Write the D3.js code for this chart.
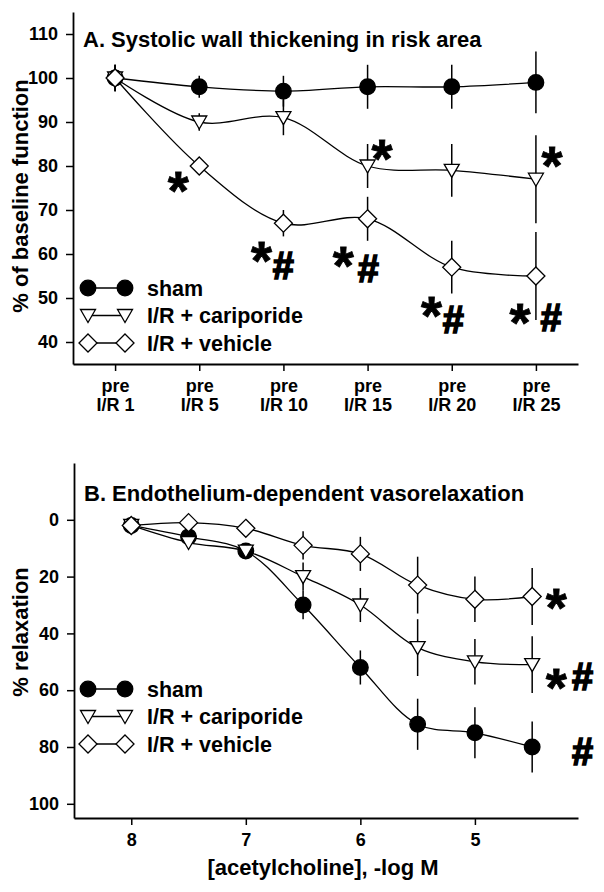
<!DOCTYPE html>
<html><head><meta charset="utf-8">
<script src="https://cdn.jsdelivr.net/npm/d3@7/dist/d3.min.js"></script>
<style>
body{margin:0;background:#fff}
text{font-family:"Liberation Sans",Arial,Helvetica,sans-serif;font-weight:bold;fill:#000}
</style>
</head><body>
<svg id="c" width="604" height="892"></svg>
<script>
// ---------- DATA ----------
const seriesNames = ["sham", "I/R + cariporide", "I/R + vehicle"];
const seriesKeys = ["circle", "triangle", "diamond"];

// Panel A
const titleA = "A. Systolic wall thickening in risk area";
const yTitleA = "% of baseline function";
const catsA = [0, 1, 2, 3, 4, 5];
const catLine1A = ["pre", "pre", "pre", "pre", "pre", "pre"];
const catLine2A = ["I/R 1", "I/R 5", "I/R 10", "I/R 15", "I/R 20", "I/R 25"];
const yTicksA = [40, 50, 60, 70, 80, 90, 100, 110];
const shamA = [100, 98, 97, 98, 98, 99];
const shamAErr = [3, 2.5, 3.5, 5, 5, 7];
const caripA = [100, 90, 91, 80, 79, 77];
const caripAErr = [3, 2, 4, 5, 6, 10];
const vehA = [100, 80, 67, 68, 57, 55];
const vehAErr = [3, 1, 3, 5, 6, 10];
const annotA = [
  {x: 0.75, y: 77, t: "*"},
  {x: 3.17, y: 84.4, t: "*"},
  {x: 5.19, y: 82.8, t: "*"},
  {x: 1.74, y: 61.3, t: "*"}, {x: 2.0, y: 57.5, t: "#"},
  {x: 2.71, y: 60, t: "*"}, {x: 3.01, y: 56.8, t: "#"},
  {x: 3.76, y: 48.6, t: "*"}, {x: 4.02, y: 45.2, t: "#"},
  {x: 4.81, y: 47.1, t: "*"}, {x: 5.18, y: 45.5, t: "#"}
];

// Panel B
const titleB = "B. Endothelium-dependent vasorelaxation";
const yTitleB = "% relaxation";
const xTitleB = "[acetylcholine], -log M";
const xB = [8, 7.5, 7, 6.5, 6, 5.5, 5, 4.5];
const xTicksB = [8, 7, 6, 5];
const yTicksB = [0, 20, 40, 60, 80, 100];
const shamB = [2, 6, 11, 30, 52, 72, 75, 80];
const shamBErr = [1, 2, 2, 5, 6, 9, 9, 9];
const caripB = [2, 8, 11, 20, 30, 45, 50, 51];
const caripBErr = [1, 1, 2, 5, 6, 10, 8, 10];
const vehB = [2, 1, 3, 9, 12, 23, 28, 27];
const vehBErr = [1, 1, 1, 5, 6, 10, 8, 10];
const annotB = [
  {x: 4.29, y: 26.8, t: "*"},
  {x: 4.29, y: 55, t: "*"}, {x: 4.06, y: 55, t: "#"},
  {x: 4.06, y: 81.4, t: "#"}
];

// ---------- DRAW ----------
const svg = d3.select("#c");

function markerPath(kind) {
  if (kind === "circle") return d3.symbol(d3.symbolCircle, Math.PI * 7.8 * 7.8)();
  if (kind === "triangle") return "M-7.5,-6L7.5,-6L0,7Z";
  return "M0,-9L9,0L0,9L-9,0Z";
}
function styleMarker(sel, kind) {
  sel.attr("d", markerPath(kind))
    .attr("fill", kind === "circle" ? "#000" : "#fff")
    .attr("stroke", "#000").attr("stroke-width", 1.3);
}

function drawPanel(cfg) {
  const g = svg.append("g");
  const {x, y} = cfg;
  const xLeft = d3.min(x.range()), yBottom = d3.max(y.range());
  // axes
  const ya = d3.axisLeft(y).tickValues(cfg.yTicks).tickSize(7).tickPadding(8).tickSizeOuter(0);
  const yg = g.append("g").attr("transform", `translate(${xLeft},0)`).call(ya);
  const xa = d3.axisBottom(x).tickValues(cfg.xTicks).tickSize(7).tickSizeOuter(0).tickFormat(cfg.xFormat || null).tickPadding(8);
  const xg = g.append("g").attr("transform", `translate(0,${yBottom})`).call(xa);
  [yg, xg].forEach(a => {
    a.select(".domain").attr("stroke-width", 1.8).attr("stroke", "#000");
    a.selectAll(".tick line").attr("stroke-width", 1.5).attr("stroke", "#000");
    a.selectAll("text").attr("font-size", 18).attr("font-family", null).attr("fill", "#000");
  });
  if (cfg.xLines) {
    xg.selectAll(".tick text").remove();
    xg.selectAll(".tick").append("text").attr("y", 28).attr("text-anchor", "middle")
      .attr("font-size", 18).text((d, i) => cfg.xLines[0][i]);
    xg.selectAll(".tick").append("text").attr("y", 47).attr("text-anchor", "middle")
      .attr("font-size", 18).text((d, i) => cfg.xLines[1][i]);
  }
  // title
  g.append("text").attr("x", cfg.titlePos[0]).attr("y", cfg.titlePos[1]).attr("font-size", 22).text(cfg.title);
  // y title
  g.append("text").attr("transform", `translate(${cfg.yTitlePos[0]},${cfg.yTitlePos[1]}) rotate(-90)`)
    .attr("text-anchor", "middle").attr("font-size", 22).text(cfg.yTitle);
  if (cfg.xTitle) {
    g.append("text").attr("x", cfg.xTitlePos[0]).attr("y", cfg.xTitlePos[1])
      .attr("text-anchor", "middle").attr("font-size", 22).text(cfg.xTitle);
  }
  // series
  const line = d3.line().curve(d3.curveCatmullRom.alpha(0.5)).x(d => x(d.x)).y(d => y(d.y));
  cfg.series.forEach((s, si) => {
    const pts = cfg.xs.map((xv, i) => ({x: xv, y: s.v[i], e: s.e[i]}));
    g.append("path").datum(pts).attr("d", line).attr("fill", "none").attr("stroke", "#000").attr("stroke-width", 1.3);
    g.append("g").selectAll("line").data(pts).join("line")
      .attr("x1", d => x(d.x)).attr("x2", d => x(d.x))
      .attr("y1", d => y(d.y - d.e)).attr("y2", d => y(d.y + d.e))
      .attr("stroke", "#000").attr("stroke-width", 1.5);
    g.append("g").selectAll("path").data(pts).join("path")
      .attr("transform", d => `translate(${x(d.x)},${y(d.y)})`)
      .call(styleMarker, seriesKeys[si]);
  });
  // legend
  const lg = g.append("g");
  seriesNames.forEach((name, i) => {
    const cy = cfg.legendY + i * 27.5;
    lg.append("line").attr("x1", 88).attr("x2", 125).attr("y1", cy).attr("y2", cy)
      .attr("stroke", "#000").attr("stroke-width", 1.3);
    [88, 125].forEach(cx => lg.append("path").attr("transform", `translate(${cx},${cy})`).call(styleMarker, seriesKeys[i]));
    lg.append("text").attr("x", 147).attr("y", cy + 7.5).attr("font-size", 21.5).text(name);
  });
  // annotations
  g.append("g").selectAll("text").data(cfg.annot).join("text")
    .attr("x", d => x(d.x)).attr("text-anchor", "middle")
    .attr("font-size", d => d.t === "*" ? 54 : 38)
    .attr("y", d => d.t === "*" ? y(d.y) + 0.56 * 54 : y(d.y) + 0.36 * 38)
    .attr("stroke", "#000").attr("stroke-width", d => d.t === "*" ? 0.8 : 1.6)
    .text(d => d.t);
}

drawPanel({
  x: d3.scaleLinear().domain([-0.5, 5.5]).range([73, 578]),
  y: d3.scaleLinear().domain([35, 115]).range([364, 12]),
  xTicks: catsA, yTicks: yTicksA, xLines: [catLine1A, catLine2A],
  title: titleA, titlePos: [83, 47],
  yTitle: yTitleA, yTitlePos: [28, 196],
  xs: catsA,
  series: [{v: shamA, e: shamAErr}, {v: caripA, e: caripAErr}, {v: vehA, e: vehAErr}],
  legendY: 288,
  annot: annotA
});

drawPanel({
  x: d3.scaleLinear().domain([8.5, 4.1]).range([74, 578]),
  y: d3.scaleLinear().domain([-20, 105]).range([463, 818]),
  xTicks: xTicksB, yTicks: yTicksB, xFormat: d3.format("d"),
  title: titleB, titlePos: [84, 501],
  yTitle: yTitleB, yTitlePos: [28, 632],
  xTitle: xTitleB, xTitlePos: [323, 875],
  xs: xB,
  series: [{v: shamB, e: shamBErr}, {v: caripB, e: caripBErr}, {v: vehB, e: vehBErr}],
  legendY: 689,
  annot: annotB
});
</script>
</body></html>
